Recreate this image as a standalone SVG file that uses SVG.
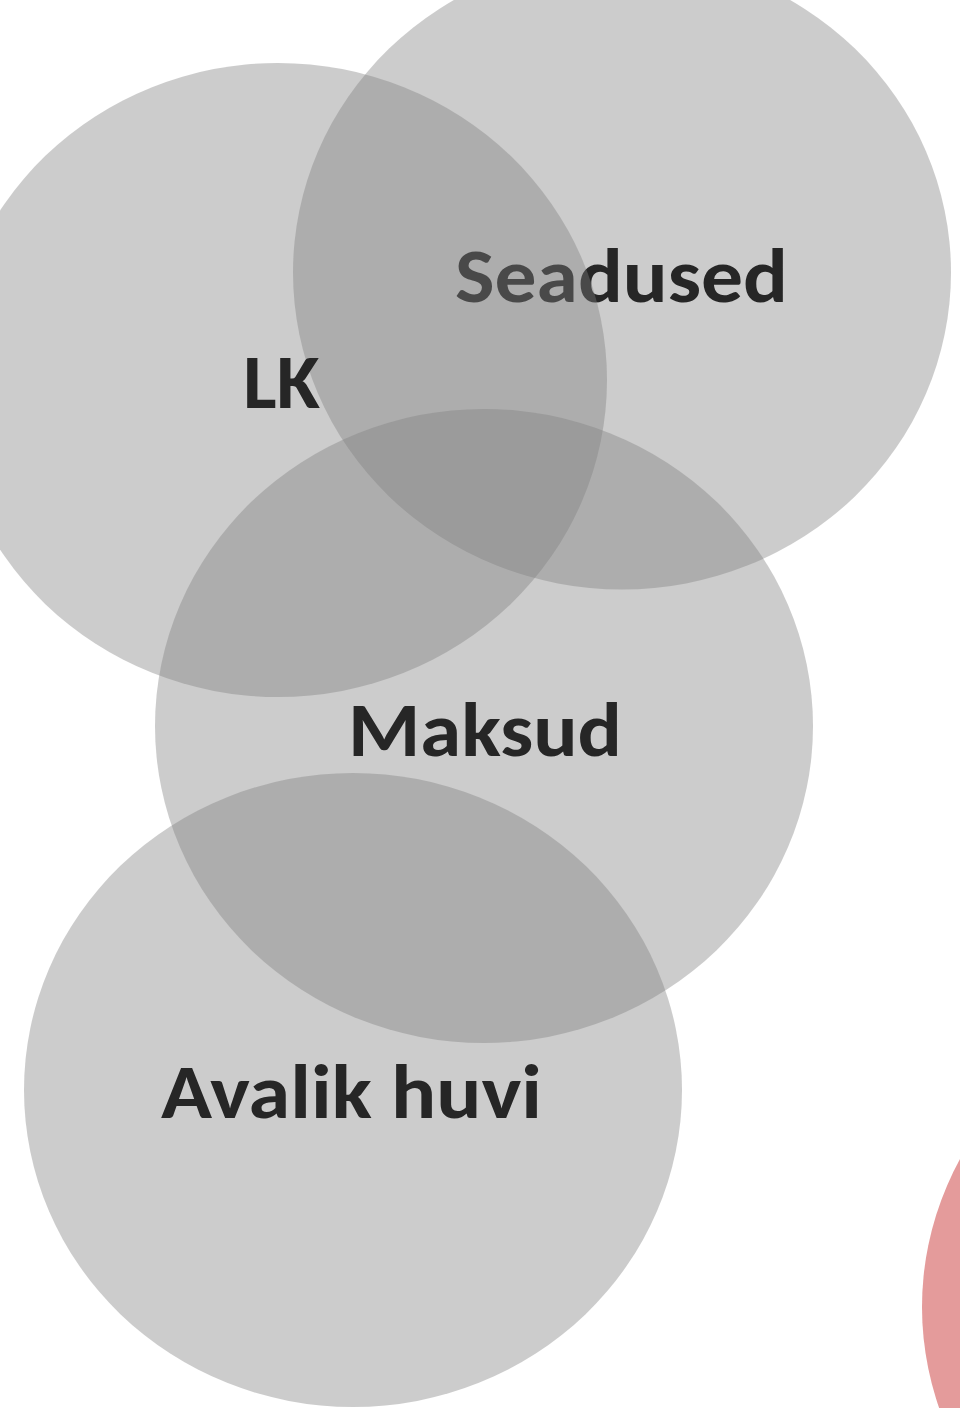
<svg xmlns="http://www.w3.org/2000/svg" width="960" height="1408" viewBox="0 0 960 1408">
  <style>
    .set { fill: #7f7f7f; fill-opacity: 0.4; }
    .accent { fill: #e49b9b; }
    .lbl { font-family: Carlito, Lato, "Open Sans", sans-serif; font-weight: bold; font-size: 76px; fill: #262626; }
  </style>
  <rect x="0" y="0" width="960" height="1408" fill="#ffffff"/>
  <g id="node-seadused">
    <ellipse class="set" cx="622" cy="272.5" rx="329" ry="317"/>
    <text class="lbl" x="455" y="302" textLength="333" lengthAdjust="spacingAndGlyphs">Seadused</text>
  </g>
  <g id="node-lk">
    <ellipse class="set" cx="278" cy="380" rx="329" ry="317"/>
    <text class="lbl" x="243" y="408" textLength="77" lengthAdjust="spacingAndGlyphs">LK</text>
  </g>
  <g id="node-maksud">
    <ellipse class="set" cx="484" cy="726" rx="329" ry="317"/>
    <text class="lbl" x="348" y="756" textLength="274" lengthAdjust="spacingAndGlyphs">Maksud</text>
  </g>
  <g id="node-avalik-huvi">
    <ellipse class="set" cx="353" cy="1090" rx="329" ry="317"/>
    <text class="lbl" x="161" y="1118" textLength="381" lengthAdjust="spacingAndGlyphs">Avalik huvi</text>
  </g>
  <g id="node-accent">
    <ellipse class="accent" cx="1251" cy="1307" rx="329" ry="317"/>
  </g>
</svg>
